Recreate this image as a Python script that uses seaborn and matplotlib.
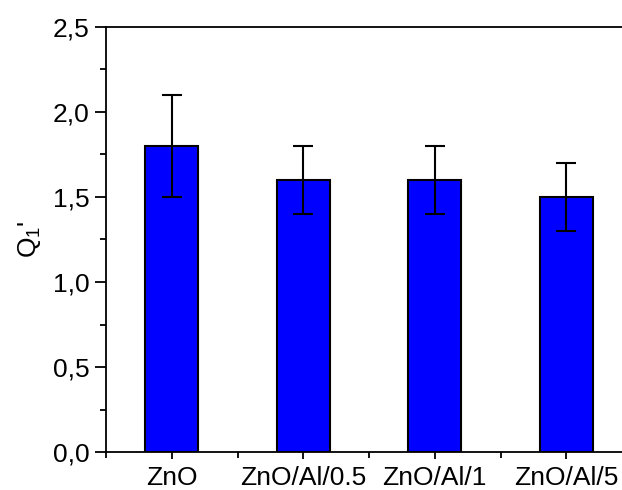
import matplotlib
matplotlib.use("Agg")
import matplotlib.pyplot as plt
from matplotlib.ticker import MultipleLocator, FixedLocator, FuncFormatter
import seaborn as sns
import pandas as pd

# Sample labels, mean Q1' values and their error half-widths
samples = ["ZnO", "ZnO/Al/0.5", "ZnO/Al/1", "ZnO/Al/5"]
q1_values = [1.8, 1.6, 1.6, 1.5]
q1_errors = [0.3, 0.2, 0.2, 0.2]

sns.set_theme(style="ticks")
plt.rcParams["font.family"] = ["Liberation Sans", "DejaVu Sans"]
plt.rcParams["mathtext.fontset"] = "custom"
plt.rcParams["mathtext.rm"] = "Liberation Sans"
plt.rcParams["mathtext.default"] = "regular"

df = pd.DataFrame({"sample": samples, "q1": q1_values, "err": q1_errors})

fig = plt.figure(figsize=(6.22, 4.90), dpi=100)
ax = fig.add_axes([106 / 622, 1 - 452 / 490, 526 / 622, 425 / 490])

sns.barplot(data=df, x="sample", y="q1", width=0.4, color="#0000FF",
            saturation=1, edgecolor="black", linewidth=1.5, errorbar=None, ax=ax)
ax.errorbar(range(len(samples)), df["q1"], yerr=df["err"], fmt="none",
            ecolor="black", elinewidth=1.5, capsize=7, capthick=1.5)

ax.set_xlim(-0.5, 3.5)
ax.set_ylim(0, 2.5)
ax.yaxis.set_major_locator(MultipleLocator(0.5))
ax.yaxis.set_minor_locator(MultipleLocator(0.25))
ax.yaxis.set_major_formatter(FuncFormatter(lambda v, p: f"{v:.1f}".replace(".", ",")))
ax.xaxis.set_minor_locator(FixedLocator([-0.5, 0.5, 1.5, 2.5, 3.5]))

ax.tick_params(axis="both", which="major", direction="out", length=8, width=1.3,
               color="black", labelsize=19, labelcolor="black", pad=4)
ax.tick_params(axis="both", which="minor", direction="out", length=4, width=1.3,
               color="black")
ax.tick_params(axis="x", which="major", length=5, pad=5)

for side in ["left", "bottom", "top", "right"]:
    ax.spines[side].set_visible(True)
    ax.spines[side].set_color("black")
    ax.spines[side].set_linewidth(1.3)

ax.set_xlabel("")
ax.set_ylabel("Q$_1$'", fontsize=19, color="black", labelpad=7)

fig.savefig("out.png", dpi=100)
